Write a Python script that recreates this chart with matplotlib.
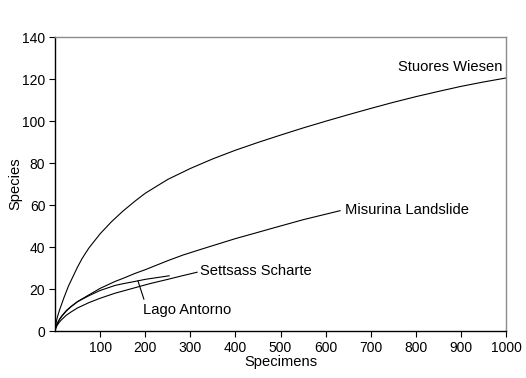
import matplotlib
matplotlib.use("Agg")
import matplotlib.pyplot as plt

plt.rcParams['font.family'] = ['Liberation Sans', 'DejaVu Sans']

# rarefaction curves
stuores_x = [0, 2, 5, 10, 15, 20, 30, 40, 50, 60, 75, 100, 125, 150, 177, 200,
             250, 300, 350, 400, 450, 500, 550, 600, 650, 700, 750, 800, 850,
             900, 950, 1000]
stuores_y = [0, 3.5, 6.5, 10, 13, 16, 21.5, 26, 30.5, 34.5, 39.5, 46.3, 52, 57,
             61.8, 65.6, 72.2, 77.4, 82, 86.1, 89.8, 93.3, 96.7, 99.9, 103, 106,
             108.9, 111.6, 114.1, 116.5, 118.6, 120.5]

misurina_x = [0, 2, 5, 10, 15, 25, 35, 50, 75, 100, 133, 150, 177, 200, 250, 284,
              325, 400, 450, 478, 550, 632]
misurina_y = [0, 1.8, 3.5, 5.5, 7, 9.5, 11.5, 14, 17.2, 20.3, 23.6, 25, 27.4,
              29.2, 33.5, 36.2, 39, 44, 47, 48.7, 53, 57.3]

lago_x = [0, 2, 5, 10, 15, 25, 35, 50, 75, 100, 133, 150, 177, 200, 225, 253]
lago_y = [0, 2, 3.6, 5.6, 7.2, 9.7, 11.6, 14, 16.8, 19.3, 21.7, 22.5, 23.6, 24.6,
          25.4, 26.3]

settsass_x = [0, 2, 5, 10, 15, 25, 35, 50, 75, 100, 133, 150, 177, 211, 250,
              280, 315]
settsass_y = [0, 1.5, 2.8, 4.3, 5.5, 7.5, 9, 11, 13.5, 15.6, 18, 19, 20.6, 22.6,
              24.6, 26.2, 28]

x_ticks = [100, 200, 300, 400, 500, 600, 700, 800, 900, 1000]
y_ticks = [0, 20, 40, 60, 80, 100, 120, 140]

fig = plt.figure(figsize=(5.26, 3.78), dpi=100)
ax = fig.add_axes([0.1046, 0.1243, 0.8574, 0.7777])

for xs, ys in [(stuores_x, stuores_y), (misurina_x, misurina_y),
               (lago_x, lago_y), (settsass_x, settsass_y)]:
    ax.plot(xs, ys, color='black', lw=0.8)

fs = 10
lfs = 10.6
ax.text(993, 125.7, "Stuores Wiesen", ha='right', va='center', fontsize=lfs)
ax.text(643, 57.4, "Misurina Landslide", ha='left', va='center', fontsize=lfs)
ax.text(322, 28.6, "Settsass Scharte", ha='left', va='center', fontsize=lfs)
ax.text(195, 10, "Lago Antorno", ha='left', va='center', fontsize=lfs)
ax.plot([184, 197], [23.8, 15.2], color='black', lw=0.8)

ax.set_xlim(0, 1000)
ax.set_ylim(0, 140)
ax.set_xticks(x_ticks)
ax.set_yticks(y_ticks)
ax.tick_params(direction='out', length=4, width=0.8, labelsize=fs, pad=3)

ax.spines['left'].set_color('black')
ax.spines['bottom'].set_color('black')
ax.spines['top'].set_color('#8c8c8c')
ax.spines['right'].set_color('#8c8c8c')
for s in ax.spines.values():
    s.set_linewidth(1.0)

ax.set_xlabel("Specimens", fontsize=lfs, labelpad=0)
ax.set_ylabel("Species", fontsize=lfs, labelpad=0)

fig.savefig("out.png", dpi=100)
